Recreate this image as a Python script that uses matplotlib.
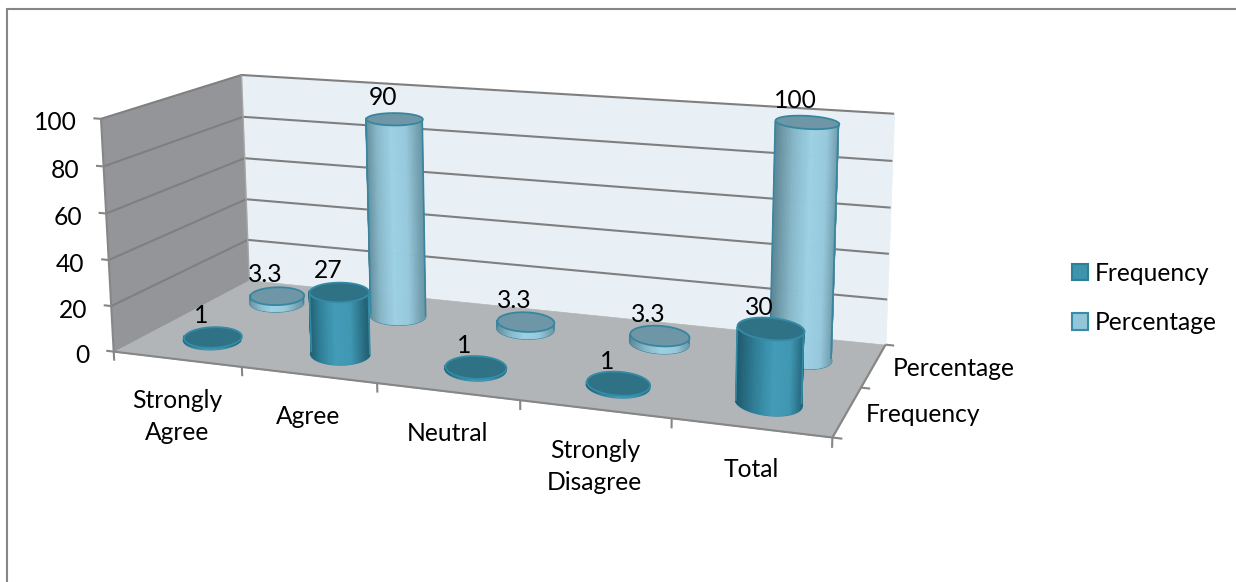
import numpy as np
import matplotlib
matplotlib.use("Agg")
import matplotlib.pyplot as plt
from matplotlib.colors import LinearSegmentedColormap
from matplotlib.patches import Patch, Rectangle
from mpl_toolkits.mplot3d import proj3d
from mpl_toolkits.mplot3d.art3d import Line3DCollection, Poly3DCollection

plt.rcParams['font.family'] = ['Lato', 'DejaVu Sans']

categories = ["Strongly\nAgree", "Agree", "Neutral", "Strongly\nDisagree", "Total"]
series_names = ["Frequency", "Percentage"]
frequency = [1, 27, 1, 1, 30]
percentage = [3.3, 90, 3.3, 3.3, 100]
value_ticks = [0, 20, 40, 60, 80, 100]

W, H = 1236, 582
XMAX, YMAX, ZMAX = len(categories), len(series_names), value_ticks[-1]
FS = 17.7
GREY = "#868686"

fig = plt.figure(figsize=(W / 100, H / 100), dpi=100)
# square axes bigger than the figure so that nothing gets clipped
ax = fig.add_axes([0, -(W - H) / 2 / H, 1, W / H], projection="3d", computed_zorder=False)
ax.set_axis_off()
ax.set_xlim(0, XMAX)
ax.set_ylim(0, YMAX)
ax.set_zlim(0, ZMAX)

# camera: fit the projection to where the box corners sit in the picture
corners = [
    ((0, 0, 0), (115, 352)),
    ((0, YMAX, 0), (248, 280)),
    ((XMAX, YMAX, 0), (886, 344)),
    ((XMAX, 0, 0), (832, 438)),
    ((0, 0, ZMAX), (100, 118)),
    ((0, YMAX, ZMAX), (242.5, 75.5)),
    ((XMAX, YMAX, ZMAX), (894, 114)),
]
inv = ax.transData.inverted()
rows = []
for (x, y, z), (px, py) in corners:
    u, v = inv.transform((px, H - py))
    rows.append([x, y, z, 1, 0, 0, 0, 0, -u * x, -u * y, -u * z, -u])
    rows.append([0, 0, 0, 0, x, y, z, 1, -v * x, -v * y, -v * z, -v])
p = np.linalg.svd(np.array(rows, dtype=float))[2][-1].reshape(3, 4)
p = p / p[2, 3]
M = np.array([p[0], p[1], [0, 1, 0, 0], p[2]])
ax.get_proj = lambda: M


def to_px(x, y, z):
    u, v, _ = proj3d.proj_transform(x, y, z, M)
    px, py = ax.transData.transform((u, v))
    return np.array([px, H - py])


def poly(verts, color, zorder):
    c = Poly3DCollection([verts], facecolors=color, edgecolors=color, linewidths=0.5)
    c.set_zorder(zorder)
    ax.add_collection3d(c)


def line(xs, ys, zs, color=GREY, lw=1.5, zorder=3):
    c = Line3DCollection([list(zip(xs, ys, zs))], colors=color, linewidths=lw, capstyle="butt")
    c.set_zorder(zorder)
    ax.add_collection3d(c)


def label(x, y, z, s, dx=0, dy=0, **kw):
    # text placed from the 3d point, with an offset in pixels
    px, py = to_px(x, y, z)
    u, v = inv.transform((px + dx, H - py - dy))
    ax.text2D(u, v, s, transform=ax.transData, fontsize=FS, zorder=20, **kw)


# walls and floor
poly([(0, 0, 0), (0, YMAX, 0), (0, YMAX, ZMAX), (0, 0, ZMAX)], "#939598", 1)
poly([(0, YMAX, 0), (XMAX, YMAX, 0), (XMAX, YMAX, ZMAX), (0, YMAX, ZMAX)], "#e8f0f6", 1)
poly([(0, 0, 0), (XMAX, 0, 0), (XMAX, YMAX, 0), (0, YMAX, 0)], "#b2b5b8", 2)

# grid lines on both walls, value ticks and labels
for t in value_ticks:
    if t > 0:
        line([0, 0, XMAX], [0, YMAX, YMAX], [t, t, t], color="#7f7f7f")
    line([0, -0.06], [0, 0], [t, t])
    label(0, 0, t, str(t), dx=-24, dy=4, ha="right", va="center")
line([0, 0], [0, 0], [0, ZMAX])
line([0, 0], [YMAX, YMAX], [0, ZMAX], color="#a6a6a6", lw=1)

# category axis along the front edge
line([0, XMAX, XMAX], [0, 0, YMAX], [0, 0, 0])
for i in range(XMAX + 1):
    line([i, i], [0, 0], [0, -4])
for i, cat in enumerate(categories):
    label(i + 0.5, 0, 0, cat, dy=30, ha="center", va="top", linespacing=1.46)

# series axis along the right edge
for j in range(YMAX + 1):
    line([XMAX, XMAX + 0.06], [j, j], [0, 0])
for j, name in enumerate(series_names):
    label(XMAX, j + 0.5, 0, name, dx=19, dy=3, ha="left", va="center")

freq_body = LinearSegmentedColormap.from_list("fb", ["#1f5a6c", "#2f7f98", "#429cb8", "#3f97b2", "#215f73"])
perc_body = LinearSegmentedColormap.from_list("pb", ["#5f8796", "#86b6c7", "#9dd1e4", "#97c9dc", "#6a95a4"])

# column section: picked as an ellipse on screen at the middle of the floor,
# taken back to data units so perspective does the rest
c0 = to_px(XMAX / 2, YMAX / 2, 0)
J = np.array([to_px(XMAX / 2 + 1, YMAX / 2, 0) - c0, to_px(XMAX / 2, YMAX / 2 + 1, 0) - c0]).T
ring_shape = np.linalg.solve(J, np.array([[30.0, 0.0], [1.5, 10.0]]))


def ring(theta):
    dx, dy = ring_shape @ np.array([np.cos(theta), np.sin(theta)])
    return dx, dy


def cylinder(xc, yc, value, cmap, top, edge, zorder):
    theta = np.linspace(0, np.pi, 61)
    dx, dy = ring(theta)
    xs = xc + dx
    ys = yc + dy
    # bottom rim goes under the body, only the front of it shows
    line(xs, ys, np.zeros_like(xs), color=edge, lw=1.5, zorder=zorder)
    X = np.array([xs, xs])
    Y = np.array([ys, ys])
    Z = np.array([np.zeros_like(xs), np.full_like(xs, value)])
    shade = (1 - np.cos(theta)) / 2
    colors = np.array([cmap(1 - shade), cmap(1 - shade)])
    ax.plot_surface(X, Y, Z, facecolors=colors, shade=False, rcount=2, ccount=61,
                    linewidth=0.6, zorder=zorder + 0.1)
    line([xs[0], xs[0]], [ys[0], ys[0]], [0, value], color=edge, lw=1.2, zorder=zorder + 0.2)
    line([xs[-1], xs[-1]], [ys[-1], ys[-1]], [0, value], color=edge, lw=1.2, zorder=zorder + 0.2)
    full = np.linspace(0, 2 * np.pi, 90)
    dx, dy = ring(full)
    cap = Poly3DCollection([list(zip(xc + dx, yc + dy, np.full_like(full, value)))],
                           facecolors=top, edgecolors=edge, linewidths=1.3)
    cap.set_zorder(zorder + 0.3)
    ax.add_collection3d(cap)
    label(xc, yc, value, f"{value:g}", dx=-11, dy=-21, ha="center", va="center")


for i, v in enumerate(percentage):
    cylinder(i + 0.5, 1.5, v, perc_body, "#6f96a6", "#37869f", 5 + i)
for i, v in enumerate(frequency):
    cylinder(i + 0.5, 0.5, v, freq_body, "#2f7285", "#348ba5", 11 + i)

# chart frame
fig.add_artist(Rectangle((7 / W, -0.1), 1.2, 1.1 - 9 / H, transform=fig.transFigure,
                         facecolor="none", edgecolor=GREY, lw=1.5))

handles = [Patch(facecolor="#3f94ad", edgecolor="#2f7f96", lw=1.5),
           Patch(facecolor="#93c6d8", edgecolor="#3a8ba5", lw=1.5)]
fig.legend(handles, series_names, loc="center left", bbox_to_anchor=(1072 / W, 1 - 298 / H),
           frameon=False, fontsize=FS, handlelength=0.65, handleheight=0.65,
           handletextpad=0.28, labelspacing=1.07, borderpad=0, borderaxespad=0)

plt.savefig("out.png", dpi=100, facecolor="white")
